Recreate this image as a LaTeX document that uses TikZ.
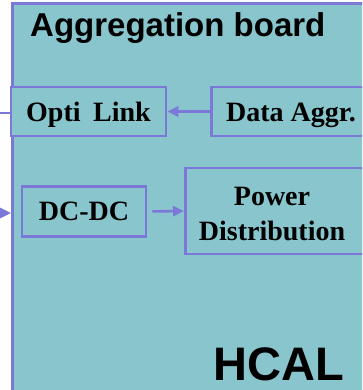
\documentclass[tikz,border=0pt]{standalone}
\usepackage{fontspec}
\setmainfont{Liberation Serif}
\setsansfont{Liberation Sans}
\usetikzlibrary{arrows.meta}
\definecolor{boardfill}{RGB}{136,197,205}
\definecolor{edge}{RGB}{124,120,216}
\begin{document}
\begin{tikzpicture}[x=1pt,y=-1pt,
  blk/.style={draw=edge, line width=2.6pt, fill=boardfill, inner sep=0pt},
  lbl/.style={font=\fontsize{28}{35}\selectfont\bfseries, inner sep=0pt, text depth=0pt},
  wire/.style={draw=edge, line width=2.6pt},
  link/.style={wire, -{Triangle[length=11pt,width=10pt]}},
  headline/.style={inner sep=0pt, anchor=base west}]
\useasboundingbox (0,0) rectangle (362,390);
\clip (0,0) rectangle (362,390);
% the board itself
\node[blk, anchor=north west, minimum width=380pt, minimum height=420pt] (board) at (11,2) {};
\node[headline, font=\fontsize{33}{40}\selectfont\sffamily\bfseries] (ttl) at (30,37) {Aggregation board};
\node[headline, font=\fontsize{47}{56}\selectfont\sffamily\bfseries] (hcal) at (213,380) {HCAL};
% data path
\node[blk, lbl, minimum width=155pt, minimum height=49pt] (ol) at (88.5,111.5) {Opti\hspace{0.45em}Link};
\node[blk, anchor=west, minimum width=200pt, minimum height=49pt] (da) at (210,111.5) {};
\node[lbl, anchor=base west] (dat) at (226,122) {Data Aggr.};
\draw[link] (da.west) -- (ol.east);
\coordinate (olout) at (-5,113);
\draw[wire] (ol.west |- olout) -- (olout);
% power path
\node[blk, lbl, minimum width=124pt, minimum height=50pt] (dc) at (84,211.5) {DC-DC};
\node[blk, anchor=west, minimum width=200pt, minimum height=86pt] (pd) at (184,211) {};
\node[lbl, align=center] (pdt) at (272,214) {Power\\Distribution};
\draw[link, shorten <=5pt] (dc.east) -- (pd.west);
\coordinate (pin) at (-10,213);
\draw[link] (pin) -- (board.west |- pin);
\end{tikzpicture}
\end{document}
